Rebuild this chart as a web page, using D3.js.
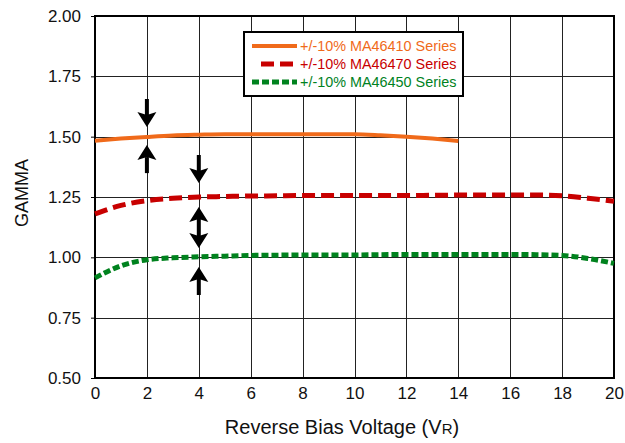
<!DOCTYPE html>
<html>
<head>
<meta charset="utf-8">
<script src="https://cdn.jsdelivr.net/npm/d3@7"></script>
<style>
  body { margin: 0; background: #fff; }
  text { font-family: "Liberation Sans", Arial, sans-serif; }
</style>
</head>
<body>
<div id="chart"></div>
<script>
// data
var xOrange = [0, 1, 2, 3, 4, 5, 6, 7, 8, 9, 10, 11, 12, 13, 14];
var yOrange = [1.483, 1.492, 1.499, 1.505, 1.508, 1.51, 1.51, 1.51, 1.51, 1.51, 1.51, 1.506, 1.50, 1.492, 1.482];

var xRed = [0, 1, 2, 3, 4, 5, 6, 7, 8, 9, 10, 11, 12, 13, 14, 15, 16, 17, 18, 19, 20];
var yRed = [1.18, 1.215, 1.235, 1.245, 1.25, 1.252, 1.254, 1.255, 1.256, 1.256, 1.256, 1.256, 1.256, 1.257, 1.258, 1.258, 1.258, 1.258, 1.255, 1.245, 1.232];

var xGreen = [0, 1, 2, 3, 4, 5, 6, 7, 8, 9, 10, 11, 12, 13, 14, 15, 16, 17, 18, 19, 20];
var yGreen = [0.915, 0.965, 0.99, 0.998, 1.002, 1.005, 1.008, 1.009, 1.01, 1.01, 1.01, 1.011, 1.012, 1.012, 1.012, 1.012, 1.012, 1.011, 1.008, 0.995, 0.975];

var seriesNames = ["+/-10% MA46410 Series", "+/-10% MA46470 Series", "+/-10% MA46450 Series"];
var xTicks = [0, 2, 4, 6, 8, 10, 12, 14, 16, 18, 20];
var yTicks = [0.50, 0.75, 1.00, 1.25, 1.50, 1.75, 2.00];

// arrows: [x, tip value] ; double arrow [x, upper tip, lower tip]
var downArrows = [[2, 1.54], [4, 1.308]];
var upArrows = [[2, 1.465], [4, 0.96]];
var doubleArrows = [[4, 1.209, 1.039]];

function init() {
    var margin = {top: 16, right: 11, bottom: 65, left: 95};
    var W = 625, H = 443;
    var w = W - margin.left - margin.right;
    var h = H - margin.top - margin.bottom;

    var svg = d3.select("#chart").append("svg")
        .attr("width", W)
        .attr("height", H);

    var g = svg.append("g")
        .attr("transform", "translate(" + margin.left + "," + margin.top + ")");

    var xScale = d3.scaleLinear().domain([0, 20]).range([0, w]);
    var yScale = d3.scaleLinear().domain([0.5, 2.0]).range([h, 0]);

    // grid
    g.append("g")
        .selectAll("line")
        .data(xTicks)
        .enter().append("line")
        .attr("x1", function(d) { return Math.round(xScale(d)) + 0.5; })
        .attr("x2", function(d) { return Math.round(xScale(d)) + 0.5; })
        .attr("y1", 0).attr("y2", h)
        .attr("stroke", "#222").attr("stroke-width", 1);
    g.append("g")
        .selectAll("line")
        .data(yTicks)
        .enter().append("line")
        .attr("y1", function(d) { return Math.round(yScale(d)) + 0.5; })
        .attr("y2", function(d) { return Math.round(yScale(d)) + 0.5; })
        .attr("x1", 0).attr("x2", w)
        .attr("stroke", "#222").attr("stroke-width", 1);

    // axes
    var yAxis = g.append("g")
        .call(d3.axisLeft(yScale).tickValues(yTicks).tickFormat(d3.format(".2f")).tickSize(4).tickPadding(10));
    var xAxis = g.append("g")
        .attr("transform", "translate(0," + h + ")")
        .call(d3.axisBottom(xScale).tickValues(xTicks).tickSize(0).tickPadding(9));
    [xAxis, yAxis].forEach(function(a) {
        a.select(".domain").remove();
        a.selectAll("text").attr("font-size", 17).attr("fill", "#111")
            .style("font-family", "'Liberation Sans', Arial, sans-serif");
        a.selectAll("line").attr("stroke", "#000");
    });

    g.append("rect")
        .attr("x", 0).attr("y", 0)
        .attr("width", w).attr("height", h)
        .attr("fill", "none").attr("stroke", "#000").attr("stroke-width", 2);

    // curves
    var line = d3.line()
        .x(function(d) { return xScale(d[0]); })
        .y(function(d) { return yScale(d[1]); })
        .curve(d3.curveMonotoneX);

    var series = [
        {xs: xOrange, ys: yOrange, color: "#f06a1a", width: 4, dash: null},
        {xs: xRed, ys: yRed, color: "#c80000", width: 5, dash: "13,6"},
        {xs: xGreen, ys: yGreen, color: "#00821e", width: 5, dash: "7,3"}
    ];

    series.forEach(function(s) {
        g.append("path")
            .datum(d3.zip(s.xs, s.ys))
            .attr("d", line)
            .attr("fill", "none")
            .attr("stroke", s.color)
            .attr("stroke-width", s.width)
            .attr("stroke-dasharray", s.dash);
    });

    // arrows
    var headH = 15, headW = 9.5, notch = 3, len = 28;
    function head(px, ty, dir) {
        // dir = 1 means pointing down
        g.append("path")
            .attr("d", "M" + px + "," + ty +
                " L" + (px - headW) + "," + (ty - dir * headH) +
                " L" + px + "," + (ty - dir * (headH - notch)) +
                " L" + (px + headW) + "," + (ty - dir * headH) + " Z")
            .attr("fill", "#000");
    }
    function arrow(x, tip, dir) {
        var px = xScale(x), ty = yScale(tip);
        g.append("line")
            .attr("x1", px).attr("x2", px)
            .attr("y1", ty - dir * (headH - notch))
            .attr("y2", ty - dir * len)
            .attr("stroke", "#000").attr("stroke-width", 4);
        head(px, ty, dir);
    }
    downArrows.forEach(function(a) { arrow(a[0], a[1], 1); });
    upArrows.forEach(function(a) { arrow(a[0], a[1], -1); });
    doubleArrows.forEach(function(a) {
        var px = xScale(a[0]), y1 = yScale(a[1]), y2 = yScale(a[2]);
        g.append("line")
            .attr("x1", px).attr("x2", px)
            .attr("y1", y1 + 10).attr("y2", y2 - 10)
            .attr("stroke", "#000").attr("stroke-width", 4);
        head(px, y1, -1);
        head(px, y2, 1);
    });

    // legend
    var lg = svg.append("g").attr("transform", "translate(244,32)");
    lg.append("rect")
        .attr("x", 0).attr("y", 0)
        .attr("width", 219).attr("height", 64)
        .attr("fill", "#fff").attr("stroke", "#000").attr("stroke-width", 2);
    series.forEach(function(s, i) {
        var yy = 14 + i * 18;
        lg.append("line")
            .attr("x1", i == 1 ? 17 : 8).attr("x2", 53)
            .attr("y1", yy).attr("y2", yy)
            .attr("stroke", s.color).attr("stroke-width", s.width)
            .attr("stroke-dasharray", s.dash);
        lg.append("text")
            .attr("x", 56).attr("y", yy + 5)
            .attr("font-size", 14.4)
            .attr("fill", s.color)
            .text(seriesNames[i]);
    });

    // axis titles
    var xt = svg.append("text")
        .attr("x", 342).attr("y", 434)
        .attr("text-anchor", "middle")
        .attr("font-size", 20)
        .attr("fill", "#111");
    xt.append("tspan").text("Reverse Bias Voltage (V");
    xt.append("tspan").attr("font-size", 15).text("R");
    xt.append("tspan").text(")");

    svg.append("text")
        .attr("transform", "translate(28," + 193 + ") rotate(-90)")
        .attr("text-anchor", "middle")
        .attr("font-size", 18)
        .attr("fill", "#111")
        .text("GAMMA");
}

window.onload = init;
</script>
</body>
</html>
